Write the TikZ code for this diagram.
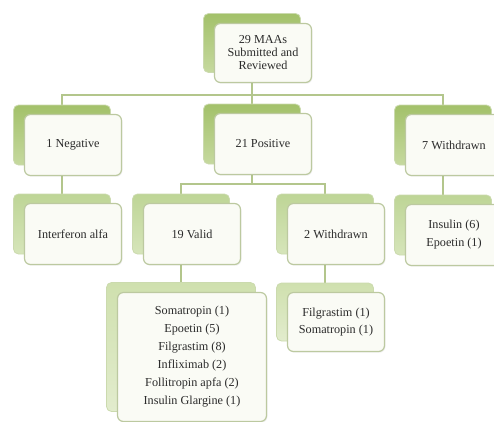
\documentclass[tikz,border=0pt]{standalone}
\usepackage{fontspec}
\setmainfont{Liberation Serif}
\usetikzlibrary{backgrounds,shadows}
\definecolor{lineC}{HTML}{B3C68C}
\definecolor{backA}{HTML}{A3C16A}
\definecolor{backAb}{HTML}{C6D99F}
\definecolor{backB}{HTML}{BED596}
\definecolor{backBb}{HTML}{D6E5BA}
\definecolor{backC}{HTML}{CFE0AE}
\definecolor{backCb}{HTML}{E2ECCD}
\definecolor{backEdge}{HTML}{CBDAAE}
\definecolor{frontFill}{HTML}{FAFBF5}
\definecolor{frontEdge}{HTML}{BCC9A0}
\definecolor{txt}{HTML}{2B2B2B}
\tikzset{
  conn/.style={draw=lineC, line width=1.6pt},
  backbox/.style={rounded corners=5pt, draw=backEdge, line width=0.8pt,
    minimum width=97pt, minimum height=60pt, inner sep=0pt},
  lvlA/.style={top color=backA, bottom color=backAb},
  lvlB/.style={top color=backB, bottom color=backBb},
  lvlC/.style={top color=backC, bottom color=backCb},
  frontbox/.style={rounded corners=6pt, fill=frontFill, draw=frontEdge, line width=1.2pt,
    minimum width=97pt, minimum height=61pt, inner sep=2pt, align=center, text=txt,
    font=\rmfamily\fontsize{12.2}{18}\selectfont,
    drop shadow={opacity=0.12, shadow xshift=1pt, shadow yshift=-1.2pt}},
}
\begin{document}
\begin{tikzpicture}[x=1pt,y=-1pt]
\useasboundingbox (0,0) rectangle (494,421);
\clip (0,0) rectangle (494,421);
% back boxes
\node[backbox,lvlA, minimum height=59pt] (topb) at (252,43) {};
\node[backbox,lvlA] (negb) at (62,135) {};
\node[backbox,lvlA] (posb) at (252,134) {};
\node[backbox,lvlA] (wd7b) at (443,135) {};
\node[backbox,lvlB] (interfb) at (62,224) {};
\node[backbox,lvlB] (validb) at (181,224) {};
\node[backbox,lvlB] (wd2b) at (325,224) {};
\node[backbox,lvlB] (insb) at (443,225) {};
\node[backbox,lvlC, minimum width=149pt, minimum height=129pt] (bigb) at (181,347) {};
\node[backbox,lvlC, minimum height=58pt] (smallb) at (325,312) {};
% front boxes
\node[frontbox, minimum height=59pt, font=\rmfamily\fontsize{12.2}{13}\selectfont] (top) at (263,53) {29 MAAs\\Submitted and\\Reviewed};
\node[frontbox] (neg) at (73,145) {1 Negative};
\node[frontbox] (pos) at (263,144) {21 Positive};
\node[frontbox] (wd7) at (454,145) {7 Withdrawn};
\node[frontbox] (interf) at (73,234) {Interferon alfa};
\node[frontbox] (valid) at (192,234) {19 Valid};
\node[frontbox] (wd2) at (336,234) {2 Withdrawn};
\node[frontbox] (ins) at (454,235) {Insulin (6)\\Epoetin (1)};
\node[frontbox, minimum width=149pt, minimum height=129pt] (big) at (192,357)
  {Somatropin (1)\\Epoetin (5)\\Filgrastim (8)\\Infliximab (2)\\Follitropin apfa (2)\\Insulin Glargine (1)};
\node[frontbox, minimum height=59pt, font=\rmfamily\fontsize{12.2}{17}\selectfont] (small) at (336,322) {Filgrastim (1)\\Somatropin (1)};
% connectors
\coordinate (bus1) at (0,95);
\coordinate (bus2) at (0,184);
\begin{scope}[on background layer]
\draw[conn] (topb.center) -- (posb.center);
\draw[conn] (negb.center) |- (wd7b.center |- bus1) -- (wd7b.center);
\draw[conn] (negb.center) -- (interfb.center);
\draw[conn] (wd7b.center) -- (insb.center);
\draw[conn] (posb.center) -- (posb.center |- bus2);
\draw[conn] (validb.center) |- (wd2b.center |- bus2) -- (wd2b.center);
\draw[conn] (validb.center) -- (bigb.center);
\draw[conn] (wd2b.center) -- (smallb.center);
\end{scope}
\end{tikzpicture}
\end{document}
